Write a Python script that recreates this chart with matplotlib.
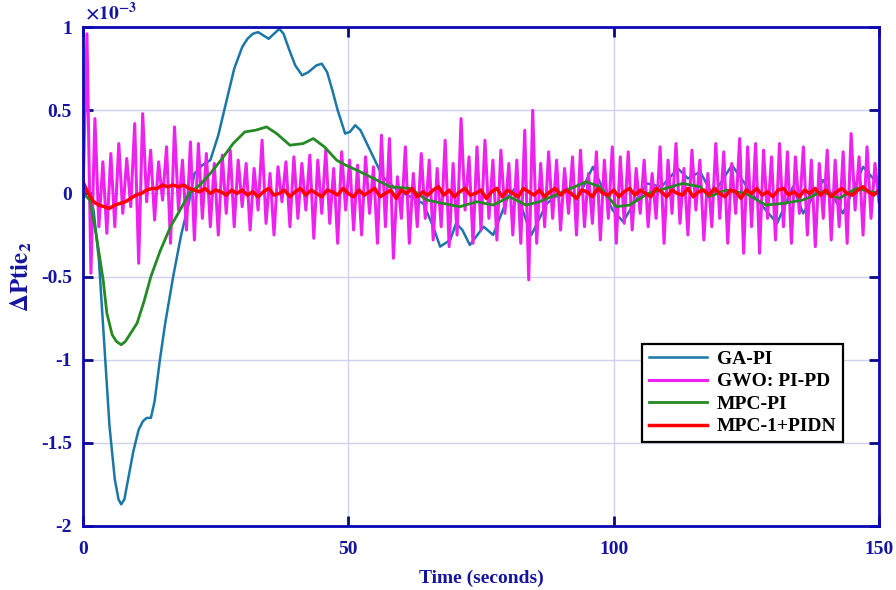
import numpy as np
import matplotlib
matplotlib.use("Agg")
import matplotlib.pyplot as plt

plt.rcParams['font.family'] = ['Liberation Serif', 'DejaVu Serif']
plt.rcParams['font.weight'] = 'bold'
plt.rcParams['mathtext.fontset'] = 'stix'
plt.rcParams['axes.unicode_minus'] = False

# values in units of 1e-3
t_ga = [0, 1, 2, 3, 4, 5, 6, 6.7, 7.2, 7.8, 8.5, 9.5, 10.5, 11.3, 12, 12.8, 13.5,
        14.5, 15.5, 17, 18.5, 20, 21, 22.5, 24, 25.5, 27, 28.5, 30, 31, 32, 33, 34,
        35, 36, 37, 37.8, 38.8, 40, 41.3, 42.5, 44, 45, 46, 47, 48, 49.4, 50.3, 51.3,
        52.3, 54.1, 56.5, 59.2, 61.7, 64.1, 66, 67.3, 69.2, 70.3, 71.5, 72.9, 75.5,
        77.3, 80.1, 81.4, 84.5, 87.4, 91.2, 93.1, 96.1, 99.8, 101.8, 104, 106.3, 109,
        112.1, 114, 116.3, 118.7, 122.3, 126, 130.8, 133.8, 135.7, 139.5, 143.2, 147,
        150]
ga_pi = [0, 0.02, -0.1, -0.4, -0.9, -1.4, -1.72, -1.84, -1.87, -1.84, -1.72, -1.55,
         -1.42, -1.37, -1.35, -1.35, -1.25, -1.0, -0.78, -0.5, -0.25, -0.05, 0.12,
         0.17, 0.2, 0.35, 0.55, 0.75, 0.88, 0.93, 0.96, 0.97, 0.95, 0.93, 0.96, 0.99,
         0.96, 0.87, 0.77, 0.71, 0.73, 0.77, 0.78, 0.73, 0.62, 0.5, 0.36, 0.37, 0.41,
         0.38, 0.26, 0.1, 0.02, -0.02, -0.06, -0.2, -0.32, -0.28, -0.18, -0.22, -0.31,
         -0.2, -0.25, -0.02, 0.03, -0.25, -0.06, 0.03, -0.04, 0.16, -0.1, -0.17,
         -0.05, 0.06, 0.04, 0.15, 0.09, 0.13, -0.01, 0.17, 0.0, -0.18, 0.04, -0.12,
         0.08, -0.12, 0.16, 0.05]

t_mpc = [0, 1.3, 2.5, 3.8, 4.5, 5.5, 6.3, 7.2, 8, 8.8, 10.2, 11.5, 12.8, 14.5, 16.5,
         18.3, 20, 22, 24, 26, 28.3, 30.5, 32.5, 34.6, 36.5, 39, 41.5, 43.4, 45.5,
         47.8, 49.5, 51.6, 55.4, 57.9, 61.7, 64.8, 67.9, 71, 74.2, 77.3, 80.4, 83.5,
         86, 89.8, 94.8, 97.4, 100.5, 103, 106.5, 113, 116.3, 118, 121.2, 124.9,
         128.7, 131.9, 135.6, 139.4, 142.5, 145.7, 150]
mpc_pi = [0, -0.04, -0.25, -0.52, -0.72, -0.85, -0.89, -0.91, -0.89, -0.85, -0.78,
          -0.65, -0.5, -0.35, -0.2, -0.1, 0.0, 0.05, 0.12, 0.2, 0.3, 0.37, 0.38, 0.4,
          0.36, 0.29, 0.3, 0.33, 0.28, 0.2, 0.17, 0.14, 0.08, 0.04, 0.03, -0.04,
          -0.06, -0.08, -0.05, -0.07, -0.02, -0.07, -0.05, 0.0, 0.07, 0.04, -0.08,
          -0.07, 0.0, 0.06, 0.04, -0.02, 0.02, 0.0, -0.07, -0.06, -0.04, 0.01, -0.03,
          0.03, 0.0]

# GWO: PI-PD, one value every 0.75 s
gwo_pipd = [
    0.0, 0.96, -0.48, 0.45, -0.2, 0.19, -0.24, 0.24, -0.2, 0.3,
    -0.12, 0.21, -0.08, 0.42, -0.42, 0.48, -0.05, 0.26, -0.16, 0.19,
    -0.04, 0.28, -0.3, 0.4, -0.1, 0.2, -0.22, 0.31, -0.28, 0.3,
    -0.15, 0.24, -0.2, 0.18, -0.25, 0.23, -0.12, 0.26, -0.2, 0.2,
    -0.08, 0.18, -0.22, 0.15, -0.1, 0.32, -0.18, 0.12, -0.25, 0.16,
    -0.05, 0.19, -0.2, 0.22, -0.15, 0.18, -0.1, 0.23, -0.27, 0.2,
    -0.12, 0.26, -0.18, 0.15, -0.3, 0.25, -0.1, 0.2, -0.22, 0.17,
    -0.25, 0.22, -0.12, 0.16, -0.3, 0.35, -0.2, 0.33, -0.39, 0.1,
    -0.15, 0.28, -0.3, 0.12, -0.2, 0.24, -0.15, 0.2, -0.28, 0.15,
    -0.2, 0.32, -0.32, 0.18, -0.25, 0.45, -0.1, 0.22, -0.3, 0.28,
    -0.22, 0.32, -0.15, 0.2, -0.28, 0.26, -0.12, 0.18, -0.25, 0.2,
    -0.3, 0.38, -0.52, 0.5, -0.3, 0.18, -0.2, 0.25, -0.15, 0.2,
    -0.22, 0.15, -0.12, 0.22, -0.25, 0.26, -0.2, 0.12, -0.18, 0.25,
    -0.28, 0.2, -0.15, 0.28, -0.3, 0.22, -0.18, 0.25, -0.22, 0.15,
    -0.12, 0.2, -0.2, 0.12, -0.15, 0.28, -0.3, 0.2, -0.12, 0.3,
    -0.18, 0.15, -0.25, 0.26, -0.1, 0.2, -0.28, 0.12, -0.2, 0.3,
    -0.15, 0.25, -0.3, 0.18, -0.12, 0.33, -0.36, 0.28, -0.2, 0.3,
    -0.36, 0.26, -0.15, 0.22, -0.28, 0.3, -0.2, 0.25, -0.3, 0.22,
    -0.12, 0.28, -0.25, 0.2, -0.32, 0.18, -0.15, 0.26, -0.28, 0.2,
    -0.2, 0.25, -0.3, 0.36, -0.1, 0.22, -0.25, 0.28, -0.15, 0.18,
    -0.05]

# MPC-1+PIDN, one value every 1 s
mpc_pidn = [
    0.07, 0.0, -0.05, -0.07, -0.08, -0.09, -0.07, -0.06, -0.05, -0.03,
    -0.01, 0.0, 0.02, 0.03, 0.03, 0.05, 0.04, 0.05, 0.04, 0.05,
    0.03, 0.02, 0.01, 0.03, 0.0, 0.02, 0.01, -0.01, 0.02, 0.0,
    0.02, -0.01, 0.01, -0.02, 0.01, 0.03, -0.01, 0.0, 0.02, -0.02,
    0.01, 0.03, -0.01, 0.02, 0.0, -0.02, 0.02, 0.01, -0.01, 0.03,
    0.0, -0.02, 0.02, -0.01, 0.01, 0.03, -0.02, 0.0, 0.02, -0.03,
    0.02, 0.0, 0.03, -0.02, 0.01, -0.01, 0.02, 0.04, -0.01, 0.02,
    -0.02, 0.01, 0.03, -0.01, 0.0, 0.02, -0.03, 0.01, 0.03, -0.02,
    0.02, 0.0, -0.02, 0.03, 0.01, -0.01, 0.02, -0.02, 0.01, 0.03,
    -0.01, 0.02, 0.0, -0.03, 0.02, 0.01, -0.02, 0.03, 0.0, -0.01,
    0.02, -0.02, 0.01, 0.03, -0.01, 0.02, 0.0, -0.02, 0.03, 0.01,
    -0.02, 0.02, 0.0, -0.01, 0.03, -0.02, 0.01, 0.02, -0.01, 0.03,
    0.0, -0.02, 0.02, 0.01, -0.03, 0.02, 0.0, 0.03, -0.01, 0.01,
    -0.02, 0.02, 0.03, -0.01, 0.01, -0.02, 0.02, 0.0, 0.03, -0.01,
    0.02, -0.02, 0.01, 0.03, 0.0, -0.01, 0.02, 0.04, 0.01, -0.01,
    0.02]

t_gwo = np.arange(len(gwo_pipd)) * 0.75
t_red = np.arange(len(mpc_pidn)) * 1.0

navy = '#1414a0'
fig = plt.figure(figsize=(8.96, 5.9), dpi=100)
ax = fig.add_axes([0.0926, 0.1085, 0.8884, 0.8455])

ax.plot(t_ga, ga_pi, color='#1a78a8', lw=1.8, label='GA-PI')
ax.plot(t_gwo, gwo_pipd, color='#ee22ee', lw=2.2, label='GWO: PI-PD')
ax.plot(t_mpc, mpc_pi, color='#248a24', lw=2.0, label='MPC-PI')
ax.plot(t_red, mpc_pidn, color='#ff0000', lw=2.5, label='MPC-1+PIDN')

ax.set_xlim(0, 150)
ax.set_ylim(-2, 1)
ax.set_xticks([0, 50, 100, 150])
ax.set_yticks([-2, -1.5, -1, -0.5, 0, 0.5, 1])
ax.set_yticklabels(['-2', '-1.5', '-1', '-0.5', '0', '0.5', '1'])
ax.grid(True, color='#d0d0f0', lw=1.0)
ax.set_axisbelow(True)
for s in ax.spines.values():
    s.set_color('#0a0ab4')
    s.set_linewidth(2.0)
ax.tick_params(direction='in', length=7, width=2, color='#0a0a80',
               top=True, right=True, labelsize=14, labelcolor=navy, pad=8)
ax.tick_params(axis='x', pad=11)
for lbl in ax.get_xticklabels() + ax.get_yticklabels():
    lbl.set_fontweight('bold')

ax.set_xlabel('Time (seconds)', fontsize=14, fontweight='bold', color=navy, labelpad=8)
ax.set_ylabel(r'$\mathbf{\Delta Ptie_2}$', fontsize=18, color=navy)
ax.yaxis.set_label_coords(-0.062, 0.5)
ax.text(0.003, 1.008, r'$\times\mathrm{10^{-3}}$', transform=ax.transAxes,
        fontsize=14, color=navy, ha='left', va='bottom')

leg = ax.legend(loc='lower right', bbox_to_anchor=(0.955, 0.168), fontsize=14,
                fancybox=False, framealpha=1, edgecolor='black', borderaxespad=0,
                handlelength=3.0, borderpad=0.35, labelspacing=0.25, handletextpad=0.5)
leg.get_frame().set_linewidth(1.6)
for txt in leg.get_texts():
    txt.set_fontweight('bold')

fig.savefig('out.png', dpi=100)
